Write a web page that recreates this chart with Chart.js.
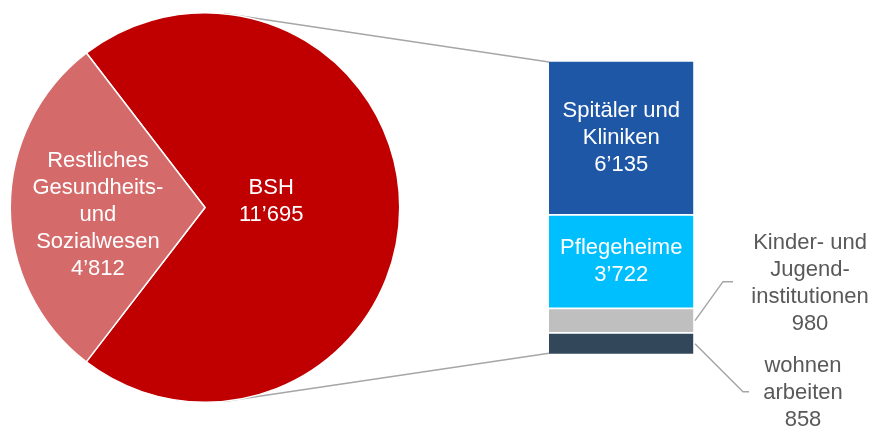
<!DOCTYPE html>
<html>
<head>
<meta charset="utf-8">
<script src="https://cdn.jsdelivr.net/npm/chart.js@4/dist/chart.umd.min.js"></script>
<style>
  html, body { margin: 0; padding: 0; background: #ffffff; }
  #wrap { position: relative; width: 874px; height: 427px; }
  #wrap canvas { position: absolute; left: 0; top: 0; }
</style>
</head>
<body>
<div id="wrap">
  <canvas id="barCanvas" width="874" height="427"></canvas>
  <canvas id="pieCanvas" width="874" height="427"></canvas>
</div>
<script>
// ---------- DATA ----------
const pieCategories = ['BSH', 'Restliches Gesundheits- und Sozialwesen'];
const pieLabelLines = [['BSH'], ['Restliches', 'Gesundheits-', 'und', 'Sozialwesen']];
const pieValues = [11695, 4812];

const barCategories = ['Spitäler und Kliniken', 'Pflegeheime', 'Kinder- und Jugendinstitutionen', 'wohnen arbeiten'];
const barLabelLines = [['Spitäler und', 'Kliniken'], ['Pflegeheime'], ['Kinder- und', 'Jugend-', 'institutionen'], ['wohnen', 'arbeiten']];
const barValues = [6135, 3722, 980, 858];

// ---------- STYLES ----------
const pieColors = ['#C00000', '#D46A6A'];
const barColors = ['#1F57A7', '#00BFFF', '#BFBFBF', '#33475B'];
const FONT = '22px "Liberation Sans", Arial, sans-serif';
const LINE_H = 27;

function fmt(n) {
  return String(n).replace(/\B(?=(\d{3})+(?!\d))/g, '\u2019');
}

function drawLines(ctx, lines, x, y, color) {
  ctx.save();
  ctx.font = FONT;
  ctx.fillStyle = color;
  ctx.textAlign = 'center';
  ctx.textBaseline = 'middle';
  const y0 = y - (lines.length - 1) * LINE_H / 2;
  lines.forEach((t, i) => ctx.fillText(t, x, y0 + i * LINE_H));
  ctx.restore();
}

Chart.defaults.animation = false;
Chart.defaults.events = [];

// ---------- PIE ----------
const pieLabelPos = [{ r: 0.34, dy: -6 }, { r: 0.55, dy: 7 }];

const pieLabelPlugin = {
  id: 'pieLabels',
  afterDatasetsDraw(chart) {
    const ctx = chart.ctx;
    const meta = chart.getDatasetMeta(0);
    meta.data.forEach((arc, i) => {
      const mid = (arc.startAngle + arc.endAngle) / 2;
      const rr = arc.outerRadius * pieLabelPos[i].r;
      const x = arc.x + Math.cos(mid) * rr;
      const y = arc.y + Math.sin(mid) * rr + pieLabelPos[i].dy;
      drawLines(ctx, pieLabelLines[i].concat([fmt(pieValues[i])]), x, y, '#FFFFFF');
    });
  }
};

const pieChart = new Chart(document.getElementById('pieCanvas'), {
  type: 'pie',
  data: {
    labels: pieCategories,
    datasets: [{
      data: pieValues,
      backgroundColor: pieColors,
      borderColor: '#FFFFFF',
      borderWidth: 1.5
    }]
  },
  options: {
    responsive: false,
    rotation: -37.5,
    layout: { padding: { left: 9.5, right: 473.5, top: 12, bottom: 24 } },
    plugins: { legend: { display: false }, tooltip: { enabled: false } }
  },
  plugins: [pieLabelPlugin]
});

// ---------- BAR ----------
const outsideLabels = {
  2: { elbowDx: 28, elbowDy: -39, endDx: 38, textDx: 115, textDy: 2 },
  3: { elbowDx: 48, elbowDy: 48, endDx: 54, textDx: 108, textDy: 1 }
};

const barPlugin = {
  id: 'barExtras',
  beforeDatasetsDraw(chart) {
    // connector lines: tangents from the bar's left corners to the pie circle
    const ctx = chart.ctx;
    const arc = pieChart.getDatasetMeta(0).data[0];
    const yS = chart.scales.y;
    const el = chart.getDatasetMeta(0).data[0];
    const left = el.x - el.width / 2;
    const top = yS.getPixelForValue(0);
    const bottom = yS.getPixelForValue(barValues.reduce((a, b) => a + b, 0));
    const corners = [[left, top + 1.2, -1], [left, bottom - 1.2, 1]];
    const R = arc.outerRadius;
    ctx.save();
    ctx.strokeStyle = '#A6A6A6';
    ctx.lineWidth = 1.5;
    corners.forEach(([cx, cy, s]) => {
      const dx = cx - arc.x, dy = cy - arc.y;
      const d = Math.hypot(dx, dy);
      const dir = Math.atan2(dy, dx);
      const t = dir + s * Math.acos(R / d);
      const px = arc.x + Math.cos(t) * R, py = arc.y + Math.sin(t) * R;
      const ux = (cx - px), uy = (cy - py);
      const ul = Math.hypot(ux, uy);
      ctx.beginPath();
      ctx.moveTo(px - ux / ul * 10, py - uy / ul * 10);
      ctx.lineTo(cx, cy);
      ctx.stroke();
    });
    ctx.restore();
  },
  afterDatasetsDraw(chart) {
    const ctx = chart.ctx;
    chart.data.datasets.forEach((ds, i) => {
      const el = chart.getDatasetMeta(i).data[0];
      const cy = (el.y + el.base) / 2;
      const lines = barLabelLines[i].concat([fmt(barValues[i])]);
      if (outsideLabels[i]) {
        const o = outsideLabels[i];
        const sx = el.x + el.width / 2 + 1.5;
        const ex = sx + o.elbowDx, ey = cy + o.elbowDy;
        ctx.save();
        ctx.strokeStyle = '#A6A6A6';
        ctx.lineWidth = 1.5;
        ctx.beginPath();
        ctx.moveTo(sx, cy);
        ctx.lineTo(ex, ey);
        ctx.lineTo(sx + o.endDx, ey);
        ctx.stroke();
        ctx.restore();
        drawLines(ctx, lines, sx + o.textDx, ey + o.textDy, '#595959');
      } else {
        drawLines(ctx, lines, el.x, cy, '#FFFFFF');
      }
    });
  }
};

new Chart(document.getElementById('barCanvas'), {
  type: 'bar',
  data: {
    labels: [''],
    datasets: barCategories.map((name, i) => ({
      label: name,
      data: [barValues[i]],
      backgroundColor: barColors[i],
      borderColor: '#FFFFFF',
      borderWidth: { top: 1.2, bottom: 1.2, left: 0, right: 0 },
      borderSkipped: false,
      barPercentage: 1,
      categoryPercentage: 1
    }))
  },
  options: {
    responsive: false,
    layout: { padding: { left: 549, right: 180.5, top: 60.8, bottom: 72.5 } },
    scales: {
      x: { display: false, stacked: true },
      y: { display: false, stacked: true, min: 0, max: barValues.reduce((a, b) => a + b, 0), reverse: true }
    },
    plugins: { legend: { display: false }, tooltip: { enabled: false } }
  },
  plugins: [barPlugin]
});
</script>
</body>
</html>
